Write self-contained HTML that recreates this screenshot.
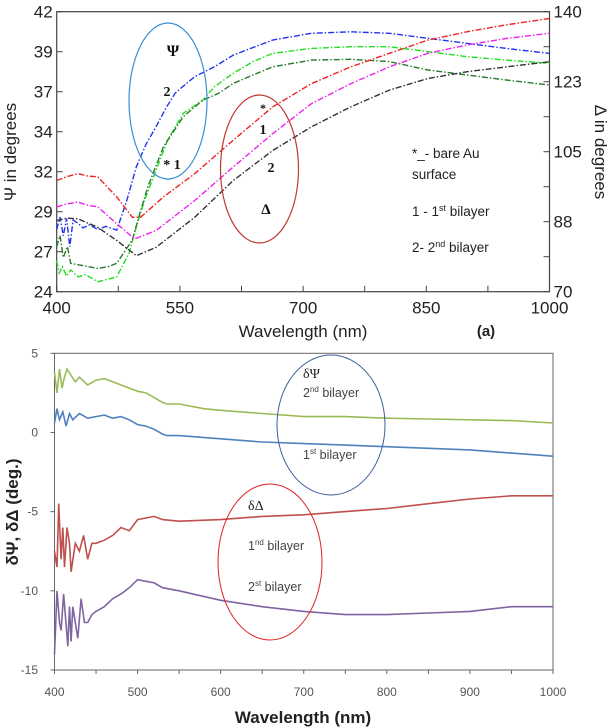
<!DOCTYPE html>
<html><head><meta charset="utf-8"><style>
html,body{margin:0;padding:0;background:#fff;}
svg{display:block;font-family:"Liberation Sans",sans-serif;}
</style></head><body>
<svg id="fig" width="610" height="728" viewBox="0 0 610 728">
<g id="top"></g>
<g id="bot"></g>
</svg>
<script>
// ---------- Top chart data ----------
const blueX=[400,404,408,412,416,420,426,432,440,450,460,473,485,497,509,521,533,544,556,568,592,615,663,710,758,805,852,900,947,1000];
const blueY=[28.0,28.8,27.6,28.7,26.9,28.6,28.4,28.1,28.3,28.0,28.2,27.96,29.8,32.04,33.5,34.61,35.8,36.75,37.3,37.82,38.46,39.21,40.18,40.61,40.71,40.61,40.29,39.96,39.64,39.32];
const lgreenX=[400,403,407,412,417,426,435,450,462,473,488,497,507,521,535,554,578,592,615,639,663,710,758,805,852,900,947,1000];
const lgreenY=[26.0,25.2,25.61,25.0,25.4,24.96,25.1,24.64,24.8,24.96,26.46,28.2,29.89,31.82,33.75,35.46,36.32,37.18,38.04,38.79,39.32,39.64,39.75,39.75,39.43,39.11,38.89,38.68];
const dgreenX=[400,404,408,413,417,430,450,462,473,492,501,511,530,554,578,597,615,639,663,710,758,805,852,900,947,1000];
const dgreenY=[26.89,27.6,26.2,26.9,25.82,25.7,25.5,25.6,25.82,27.32,29.0,30.75,33.32,35.25,36.32,36.75,37.39,37.93,38.46,38.89,38.94,38.79,38.25,37.93,37.61,37.29];
const redX=[400,413,426,438,450,473,492,502,530,568,615,663,710,758,805,852,900,947,1000];
const redY=[97.8,98.8,99.5,98.9,98.7,93.7,88.6,88.6,93.7,99.5,107.9,116.2,122.0,126.2,129.6,132.9,135.0,136.7,138.3];
const magX=[400,413,426,438,450,473,495,521,568,615,663,710,758,805,852,900,947,1000];
const magY=[91.2,92.0,92.4,91.6,91.2,87.0,83.2,85.3,92.8,101.2,109.5,117.0,122.0,126.2,129.6,131.7,133.3,134.6];
const blkX=[400,413,426,450,473,497,521,568,615,663,710,758,805,852,900,947,1000];
const blkY=[87.8,88.4,88.2,86.1,82.8,79.0,81.1,88.6,97.8,105.3,111.2,116.2,120.4,123.3,125.0,126.2,127.5];
const psiTicks=["42","39","37","34","32","29","27","24"];
const delTicks=["140","123","105","88","70"];
const xTicksA=[400,550,700,850,1000];

// ---------- Bottom chart data ----------
const bGreenX=[400,403,406,409,412,415,420,425,430,440,450,460,470,480,490,500,510,520,530,535,550,580,600,650,700,750,800,850,900,950,1000];
const bGreenY=[3.8,2.5,4.0,2.8,3.5,4.0,3.6,3.2,3.5,3.0,3.3,3.4,3.2,3.0,2.8,2.6,2.5,2.2,1.9,1.8,1.8,1.5,1.4,1.2,1.0,1.0,0.9,0.85,0.8,0.75,0.6];
const bBlueX=[400,403,406,410,414,418,422,430,440,450,460,470,480,490,500,510,520,530,535,550,600,650,700,750,800,850,900,950,1000];
const bBlueY=[0.6,1.5,0.8,1.3,0.4,1.2,0.8,1.2,0.9,1.0,1.1,0.9,1.0,0.8,0.5,0.4,0.2,-0.1,-0.2,-0.2,-0.4,-0.6,-0.7,-0.8,-0.9,-1.0,-1.1,-1.3,-1.5];
const bRedX=[400,403,405,408,410,412,415,418,420,425,430,435,440,445,450,460,470,480,490,500,510,520,530,550,600,650,700,750,800,850,900,950,1000];
const bRedY=[-7.5,-8.5,-4.5,-8.0,-6.0,-8.5,-6.0,-7.0,-8.8,-7.0,-7.5,-6.5,-8.0,-7.0,-7.0,-6.8,-6.5,-6.0,-6.2,-5.5,-5.4,-5.3,-5.5,-5.6,-5.5,-5.3,-5.2,-5.0,-4.8,-4.5,-4.2,-4.0,-4.0];
const bPurX=[400,403,406,408,411,413,416,418,420,422,425,428,432,436,440,445,450,460,470,480,490,500,510,520,530,550,600,650,700,750,800,850,900,950,1000];
const bPurY=[-14.0,-10.0,-12.0,-12.5,-10.2,-11.5,-13.5,-11.0,-13.2,-11.0,-12.0,-13.0,-10.5,-12.0,-12.0,-11.5,-11.3,-11.0,-10.5,-10.2,-9.8,-9.3,-9.4,-9.5,-9.8,-10.0,-10.6,-11.0,-11.3,-11.5,-11.5,-11.4,-11.3,-11.0,-11.0];
const bYTicks=[5,0,-5,-10,-15];
const bXTicks=[400,500,600,700,800,900,1000];

const NS="http://www.w3.org/2000/svg";
function mk(parent,tag,attrs,text){const e=document.createElementNS(NS,tag);for(const k in attrs)e.setAttribute(k,attrs[k]);if(text!==undefined)e.textContent=text;parent.appendChild(e);return e;}

// ===== TOP =====
const T=document.getElementById('top');
const aL=56.7,aR=549.5,aT=11.7,aB=291.7;
const axA=v=>aL+(v-400)/600*(aR-aL);
const ayPsi=v=>aB-(v-24)/18*(aB-aT);
const ayDel=v=>aB-(v-70)/70*(aB-aT);
function pathA(xs,ys,fy){return xs.map((x,i)=>(i?'L':'M')+axA(x).toFixed(1)+' '+fy(ys[i]).toFixed(1)).join(' ');}
let e;
e=mk(T,'rect',{x:aL,y:aT,width:aR-aL,height:aB-aT,fill:'none',stroke:'#444','stroke-width':1.2});

// psi ticks
psiTicks.forEach((t,i)=>{const y=aT+i*(aB-aT)/7;
 e=mk(T,'line',{x1:aL,x2:aL+6,y1:y,y2:y,stroke:'#444'});
 e=mk(T,'text',{x:aL-4,y:y+6,'text-anchor':'end','font-size':17,fill:'#222'},t);});
// delta ticks
for(let i=0;i<=8;i++){const y=aT+i*(aB-aT)/8;
 e=mk(T,'line',{x1:aR-6,x2:aR,y1:y,y2:y,stroke:'#444'});}
delTicks.forEach((t,i)=>{const y=aT+i*(aB-aT)/4;
 e=mk(T,'text',{x:aR+4,y:y+6,'font-size':17,fill:'#222'},t);});
// x ticks
for(let v=400;v<=1000;v+=75){const x=axA(v);
 e=mk(T,'line',{x1:x,x2:x,y1:aB,y2:aB-6,stroke:'#444'});}
xTicksA.forEach(v=>{e=mk(T,'text',{x:axA(v),y:aB+22,'text-anchor':'middle','font-size':17,fill:'#222'},String(v));});
// series
const seriesA=[[blueX,blueY,ayPsi,'#2233ee','psi-2nd-bilayer'],[lgreenX,lgreenY,ayPsi,'#22dd22','psi-bare-au'],[dgreenX,dgreenY,ayPsi,'#2a7a2a','psi-1st-bilayer'],
 [redX,redY,ayDel,'#ee2222','delta-bare-au'],[magX,magY,ayDel,'#ee22ee','delta-1st-bilayer'],[blkX,blkY,ayDel,'#333333','delta-2nd-bilayer']];
seriesA.forEach(s=>{e=mk(T,'path',{d:pathA(s[0],s[1],s[2]),fill:'none',stroke:s[3],'stroke-width':1.4,'stroke-dasharray':'6 2 1.5 2'});
 });
// ellipses + annotations
e=mk(T,'ellipse',{cx:168,cy:101,rx:39,ry:78,fill:'none',stroke:'#3a8fd0','stroke-width':1.2});
e=mk(T,'ellipse',{cx:259.5,cy:169,rx:39,ry:74,fill:'none',stroke:'#c0392b','stroke-width':1.2});
const annA=[[173,56,'Ψ',16,'bold','psi-symbol'],[167,96,'2',14,'bold','psi-label-2'],[172,169,'* 1',14,'bold','psi-label-1'],
 [263,112,'*',12,'bold','delta-star'],[263,134,'1',14,'bold','delta-label-1'],[271,172,'2',14,'bold','delta-label-2'],[266,214,'Δ',15,'bold','delta-symbol']];
annA.forEach(a=>{e=mk(T,'text',{x:a[0],y:a[1],'text-anchor':'middle','font-size':a[3],'font-weight':a[4],'font-family':'"Liberation Serif",serif',fill:'#111'},a[2]);});
const leg=[[412,158,'*_- bare Au','legend-bare-au'],[412,179,'surface','legend-surface']];
leg.forEach(a=>{e=mk(T,'text',{x:a[0],y:a[1],'font-size':13.5,fill:'#222'},a[2]);});
e=mk(T,'text',{x:412,y:216,'font-size':13.5,fill:'#222'});
e.innerHTML='1 - 1<tspan font-size="9" dy="-5">st</tspan><tspan dy="5"> bilayer</tspan>';
e=mk(T,'text',{x:412,y:252,'font-size':13.5,fill:'#222'});
e.innerHTML='2- 2<tspan font-size="9" dy="-5">nd</tspan><tspan dy="5"> bilayer</tspan>';
e=mk(T,'text',{x:303,y:337,'text-anchor':'middle','font-size':17,fill:'#222'},'Wavelength (nm)');
e=mk(T,'text',{x:486,y:336,'text-anchor':'middle','font-size':15,'font-weight':'bold',fill:'#222'},'(a)');
e=mk(T,'text',{x:0,y:0,transform:'translate(16,152) rotate(-90)','text-anchor':'middle','font-size':17,fill:'#222'},'Ψ in degrees');
e=mk(T,'text',{x:0,y:0,transform:'translate(595,152) rotate(90)','text-anchor':'middle','font-size':17,fill:'#222'},'Δ in degrees');

// ===== BOTTOM =====
const B=document.getElementById('bot');
const bL=54.5,bR=553,bT=353.3,bB=670;
const bx=v=>bL+(v-400)/600*(bR-bL);
const by=v=>bB-(v+15)/20*(bB-bT);
e=mk(B,'rect',{x:bL,y:bT,width:bR-bL,height:bB-bT,fill:'none',stroke:'#666','stroke-width':1});
bYTicks.forEach(v=>{e=mk(B,'text',{x:38,y:by(v)+4,'text-anchor':'end','font-size':12,fill:'#555'},String(v));
 e=mk(B,'line',{x1:bL-4,x2:bL,y1:by(v),y2:by(v),stroke:'#666'});});
for(let v=400;v<=1000;v+=50){e=mk(B,'line',{x1:bx(v),x2:bx(v),y1:bB,y2:bB+4,stroke:'#666'});}
bXTicks.forEach(v=>{e=mk(B,'text',{x:bx(v),y:bB+26,'text-anchor':'middle','font-size':12,fill:'#555'},String(v));});
function pathB(xs,ys){return xs.map((x,i)=>(i?'L':'M')+bx(x).toFixed(1)+' '+by(ys[i]).toFixed(1)).join(' ');}
const seriesB=[[bGreenX,bGreenY,'#9bbb59','dpsi-2nd-bilayer'],[bBlueX,bBlueY,'#4f81bd','dpsi-1st-bilayer'],[bRedX,bRedY,'#c0504d','ddelta-1st-bilayer'],[bPurX,bPurY,'#8064a2','ddelta-2nd-bilayer']];
seriesB.forEach(s=>{e=mk(B,'path',{d:pathB(s[0],s[1]),fill:'none',stroke:s[2],'stroke-width':1.6});});
e=mk(B,'ellipse',{cx:331,cy:425,rx:54,ry:70,fill:'none',stroke:'#3a5f9a','stroke-width':1});
e=mk(B,'ellipse',{cx:270,cy:562,rx:52,ry:78,fill:'none',stroke:'#e02020','stroke-width':1});
e=mk(B,'text',{x:303,y:378,'font-size':14,'font-family':'"Liberation Serif",serif',fill:'#222'},'δΨ');
e=mk(B,'text',{x:248,y:510,'font-size':14,'font-family':'"Liberation Serif",serif',fill:'#222'},'δΔ');
const annB=[[303,397,'2','nd','dpsi-label-2nd'],[303,459,'1','st','dpsi-label-1st'],[248,550,'1','nd','ddelta-label-1nd'],[248,591,'2','st','ddelta-label-2st']];
annB.forEach(a=>{e=mk(B,'text',{x:a[0],y:a[1],'font-size':12.5,fill:'#444'});
 e.innerHTML=a[2]+'<tspan font-size="8" dy="-5">'+a[3]+'</tspan><tspan dy="5"> bilayer</tspan>';});
e=mk(B,'text',{x:303,y:723,'text-anchor':'middle','font-size':17,'font-weight':'bold',fill:'#222'},'Wavelength (nm)');
e=mk(B,'text',{x:0,y:0,transform:'translate(18,512) rotate(-90)','text-anchor':'middle','font-size':17,'font-weight':'bold',fill:'#222'},'δΨ, δΔ (deg.)');
</script>
</body></html>
